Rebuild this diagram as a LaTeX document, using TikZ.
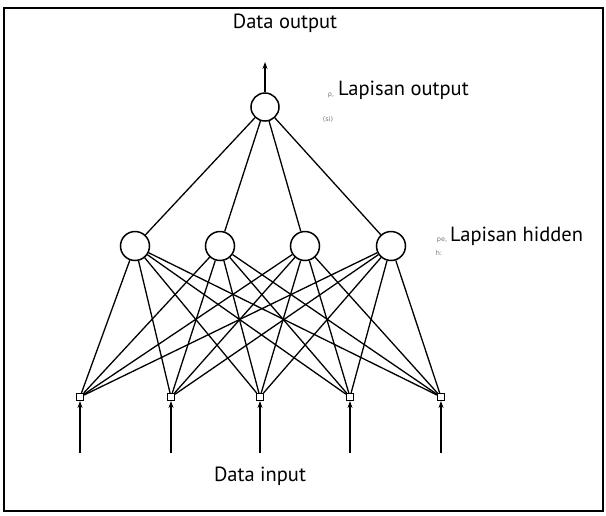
\documentclass[tikz,border=0pt]{standalone}
\usepackage{fontspec}
\setmainfont{PT Sans}
\newfontfamily\noisefont{DejaVu Sans}
\usetikzlibrary{arrows.meta}
\begin{document}
\begin{tikzpicture}[x=1pt,y=-1pt,
  neuron/.style={draw,circle,line width=1.5pt,minimum size=29pt,inner sep=0pt},
  inbox/.style={draw,rectangle,line width=1.1pt,minimum size=7pt,inner sep=0pt},
  link/.style={line width=1.3pt},
  inarrow/.style={line width=1.3pt,-{Stealth[length=7pt,width=5pt]}},
  lab/.style={font=\fontsize{20.5}{22}\selectfont,inner sep=0pt},
  noise/.style={font=\noisefont\fontsize{6.5}{7}\selectfont,text=black!55,inner sep=0pt}]
\useasboundingbox (0,0) rectangle (606,515);
\draw[line width=1.8pt] (4,8) rectangle (603,511);
% output
\node[neuron,minimum size=28pt] (o) at (265,107) {};
\coordinate (otop) at (265,62);
\draw[inarrow] (o) -- (otop);
\node[lab] (dout) at (285,23) {Data output};
\node[lab,anchor=west] (lout) at (338,90) {Lapisan output};
\node[noise] (n1) at (331,95) {ρ,};
\node[noise] (n2) at (328,119) {(si)};
% hidden
\foreach \i/\x in {1/135,2/220,3/305,4/391}{
  \node[neuron] (h\i) at (\x,246) {};
  \draw[link] (o) -- (h\i);
}
\node[lab,anchor=west] (lhid) at (450,236) {Lapisan hidden};
\node[noise] (n3) at (442,240) {pe,};
\node[noise] (n4) at (439,253) {h:};
% inputs
\foreach \j/\x in {1/80,2/171,3/260,4/350,5/441}{
  \node[inbox] (i\j) at (\x,397) {};
  \coordinate (s\j) at (\x,453);
  \draw[inarrow] (s\j) -- (i\j);
  \foreach \i in {1,2,3,4}{
    \draw[link] (h\i) -- (i\j);
  }
}
\node[lab] (din) at (260,476) {Data input};
\end{tikzpicture}
\end{document}
